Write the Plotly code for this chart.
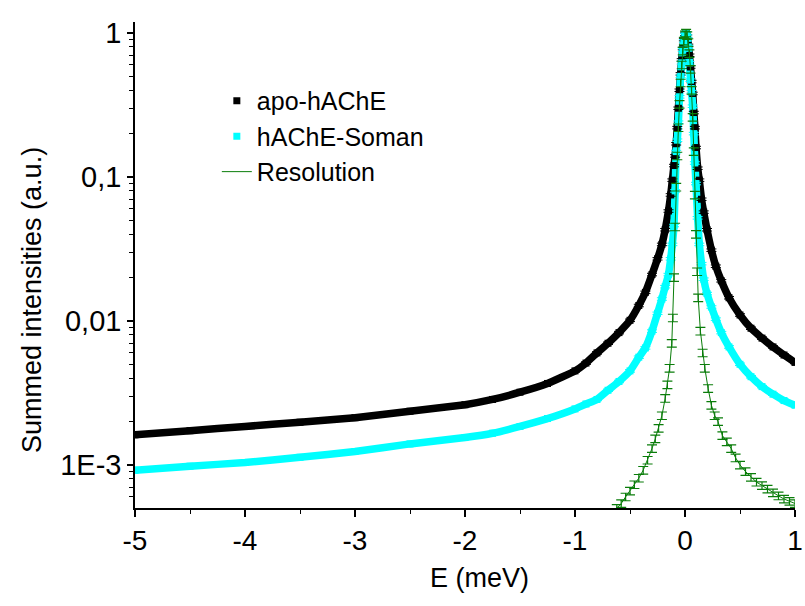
import plotly.graph_objects as go

# Energy transfer grid (meV) shared by the two sample spectra
energy = [-5.0, -4.5, -4.0, -3.5, -3.0, -2.5, -2.0, -1.75, -1.5, -1.25, -1.0,
          -0.9, -0.8, -0.7, -0.6, -0.5, -0.42, -0.36, -0.3, -0.25, -0.21, -0.18,
          -0.15, -0.13, -0.115, -0.1, -0.09, -0.08, -0.07, -0.06, -0.05, -0.04,
          -0.03, -0.02, -0.01, 0.0, 0.01, 0.02, 0.03, 0.04, 0.05, 0.06, 0.07,
          0.08, 0.09, 0.1, 0.115, 0.13, 0.15, 0.17, 0.2, 0.24, 0.28, 0.33, 0.4,
          0.5, 0.6, 0.7, 0.8, 0.9, 1.0]

apo_hache = [1.62e-3, 1.73e-3, 1.85e-3, 1.98e-3, 2.13e-3, 2.36e-3, 2.62e-3,
             2.85e-3, 3.2e-3, 3.68e-3, 4.5e-3, 5.1e-3, 6.0e-3, 7.0e-3, 8.3e-3,
             0.0101, 0.0128, 0.0158, 0.021, 0.027, 0.034, 0.043, 0.058, 0.075,
             0.095, 0.12, 0.14, 0.17, 0.22, 0.30, 0.40, 0.52, 0.65, 0.78, 0.90,
             0.98, 1.0, 0.95, 0.82, 0.70, 0.58, 0.46, 0.38, 0.28, 0.22, 0.16,
             0.115, 0.095, 0.07, 0.057, 0.043, 0.031, 0.024, 0.019, 0.0145,
             0.011, 8.9e-3, 7.6e-3, 6.6e-3, 5.8e-3, 5.15e-3]

hache_soman = [9.2e-4, 9.8e-4, 1.04e-3, 1.13e-3, 1.24e-3, 1.40e-3, 1.55e-3,
               1.66e-3, 1.85e-3, 2.1e-3, 2.45e-3, 2.65e-3, 2.85e-3, 3.3e-3,
               3.8e-3, 4.5e-3, 5.6e-3, 6.5e-3, 8.5e-3, 0.0113, 0.0142, 0.0173,
               0.021, 0.027, 0.034, 0.046, 0.08, 0.15, 0.18, 0.24, 0.36, 0.5,
               0.62, 0.76, 0.88, 0.97, 1.0, 0.95, 0.80, 0.62, 0.47, 0.39, 0.31,
               0.20, 0.125, 0.09, 0.052, 0.034, 0.025, 0.0195, 0.0155, 0.0125,
               0.0103, 8.3e-3, 6.6e-3, 5.0e-3, 4.1e-3, 3.5e-3, 3.1e-3, 2.8e-3,
               2.6e-3]

# Instrumental resolution (vanadium-like elastic line)
res_energy = [-0.62, -0.58, -0.54, -0.5, -0.46, -0.42, -0.38, -0.34, -0.3,
              -0.27, -0.24, -0.21, -0.18, -0.16, -0.14, -0.12, -0.11, -0.1,
              -0.09, -0.08, -0.07, -0.06, -0.05, -0.04, -0.03, -0.02, -0.01,
              0.0, 0.01, 0.02, 0.03, 0.04, 0.05, 0.06, 0.07, 0.08, 0.09, 0.1,
              0.11, 0.12, 0.14, 0.16, 0.18, 0.21, 0.24, 0.27, 0.3, 0.34, 0.38,
              0.42, 0.46, 0.5, 0.55, 0.6, 0.65, 0.7, 0.75, 0.8, 0.85, 0.9,
              0.95, 1.0]

resolution = [5.0e-4, 5.4e-4, 6.0e-4, 6.6e-4, 7.3e-4, 8.1e-4, 9.2e-4, 1.08e-3,
              1.3e-3, 1.52e-3, 1.8e-3, 2.2e-3, 2.9e-3, 3.6e-3, 4.7e-3, 7.0e-3,
              0.0105, 0.02, 0.045, 0.085, 0.14, 0.22, 0.32, 0.45, 0.6, 0.75,
              0.88, 0.97, 1.0, 0.96, 0.86, 0.72, 0.56, 0.4, 0.26, 0.15, 0.075,
              0.04, 0.022, 0.0145, 8.5e-3, 6.0e-3, 4.7e-3, 3.4e-3, 2.6e-3,
              2.2e-3, 2.0e-3, 1.6e-3, 1.45e-3, 1.3e-3, 1.12e-3, 1.0e-3, 9.0e-4,
              8.2e-4, 7.6e-4, 7.2e-4, 6.8e-4, 6.4e-4, 6.1e-4, 5.8e-4, 5.6e-4,
              5.4e-4]

y_tickvals = [1e-3, 1e-2, 1e-1, 1]
y_ticktext = ["1E-3", "0,01", "0,1", "1"]
x_tickvals = [-5, -4, -3, -2, -1, 0, 1]

FONT = "Liberation Sans, Arial, sans-serif"
BLACK = "#000000"
CYAN = "#00ffff"
GREEN = "#0a7d0a"

L, R, T, B = 135, 10, 22, 98
PW, PH = 805 - L - R, 606 - T - B

fig = go.Figure()

# Dense bands behind the sample markers
for vals, col in [(apo_hache, BLACK), (hache_soman, CYAN)]:
    fig.add_trace(go.Scatter(
        x=energy, y=vals, mode="lines", showlegend=False, hoverinfo="skip",
        line=dict(color=col, width=7.5, shape="spline", smoothing=0.3),
    ))

fig.add_trace(go.Scatter(
    x=energy, y=apo_hache, mode="markers", name="apo-hAChE",
    legendgroup="a",
    marker=dict(symbol="square", size=7, color=BLACK),
    error_y=dict(type="percent", value=2, color=BLACK, thickness=1, width=5),
))
fig.add_trace(go.Scatter(
    x=energy, y=hache_soman, mode="markers", name="hAChE-Soman",
    legendgroup="b",
    marker=dict(symbol="square", size=7, color=CYAN),
    error_y=dict(type="percent", value=2, color=CYAN, thickness=1, width=5),
))
fig.add_trace(go.Scatter(
    x=res_energy, y=resolution, mode="lines", name="Resolution",
    legendgroup="c",
    line=dict(color=GREEN, width=1),
    error_y=dict(type="percent", value=6, color=GREEN, thickness=1.2, width=5),
))

fig.update_layout(
    width=805, height=606,
    margin=dict(l=L, r=R, t=T, b=B),
    paper_bgcolor="white", plot_bgcolor="white",
    font=dict(family=FONT, size=27, color="black"),
    legend=dict(
        x=0.124, y=0.885, xanchor="left", yanchor="top",
        bgcolor="rgba(0,0,0,0)", borderwidth=0,
        font=dict(family=FONT, size=25, color="black"),
        tracegroupgap=0, itemwidth=30,
    ),
    annotations=[
        dict(text="E (meV)", xref="paper", yref="paper",
             x=(479 - L) / PW, y=-(578 - (606 - B)) / PH,
             xanchor="center", yanchor="middle", showarrow=False,
             font=dict(size=27, family=FONT)),
        dict(text="Summed intensities (a.u.)", xref="paper", yref="paper",
             x=-(L - 32) / PW, y=((606 - B) - 300) / PH, textangle=-90,
             xanchor="center", yanchor="middle", showarrow=False,
             font=dict(size=27, family=FONT)),
    ],
)

fig.update_xaxes(
    range=[-5, 1], tickvals=x_tickvals, ticktext=[str(v) for v in x_tickvals],
    automargin=False,
    showgrid=False, zeroline=False, showline=True, linecolor="black",
    linewidth=1.5, ticks="outside", ticklen=7, tickwidth=1.5,
    tickcolor="black", tickfont=dict(size=28, family=FONT),
    minor=dict(ticks="outside", ticklen=4, tickwidth=1.2, tickcolor="black",
               dtick=0.5, showgrid=False),
)

fig.update_yaxes(
    type="log", range=[-3.299, 0.076], tickvals=y_tickvals,
    automargin=False,
    ticktext=y_ticktext, showgrid=False, zeroline=False, showline=True,
    linecolor="black", linewidth=1.5, ticks="outside", ticklen=6,
    tickwidth=1.5, tickcolor="black", tickfont=dict(size=29, family=FONT),
    minor=dict(ticks="outside", ticklen=4, tickwidth=1.2, tickcolor="black",
               dtick="D1", showgrid=False),
)

fig.write_html("out.html")
